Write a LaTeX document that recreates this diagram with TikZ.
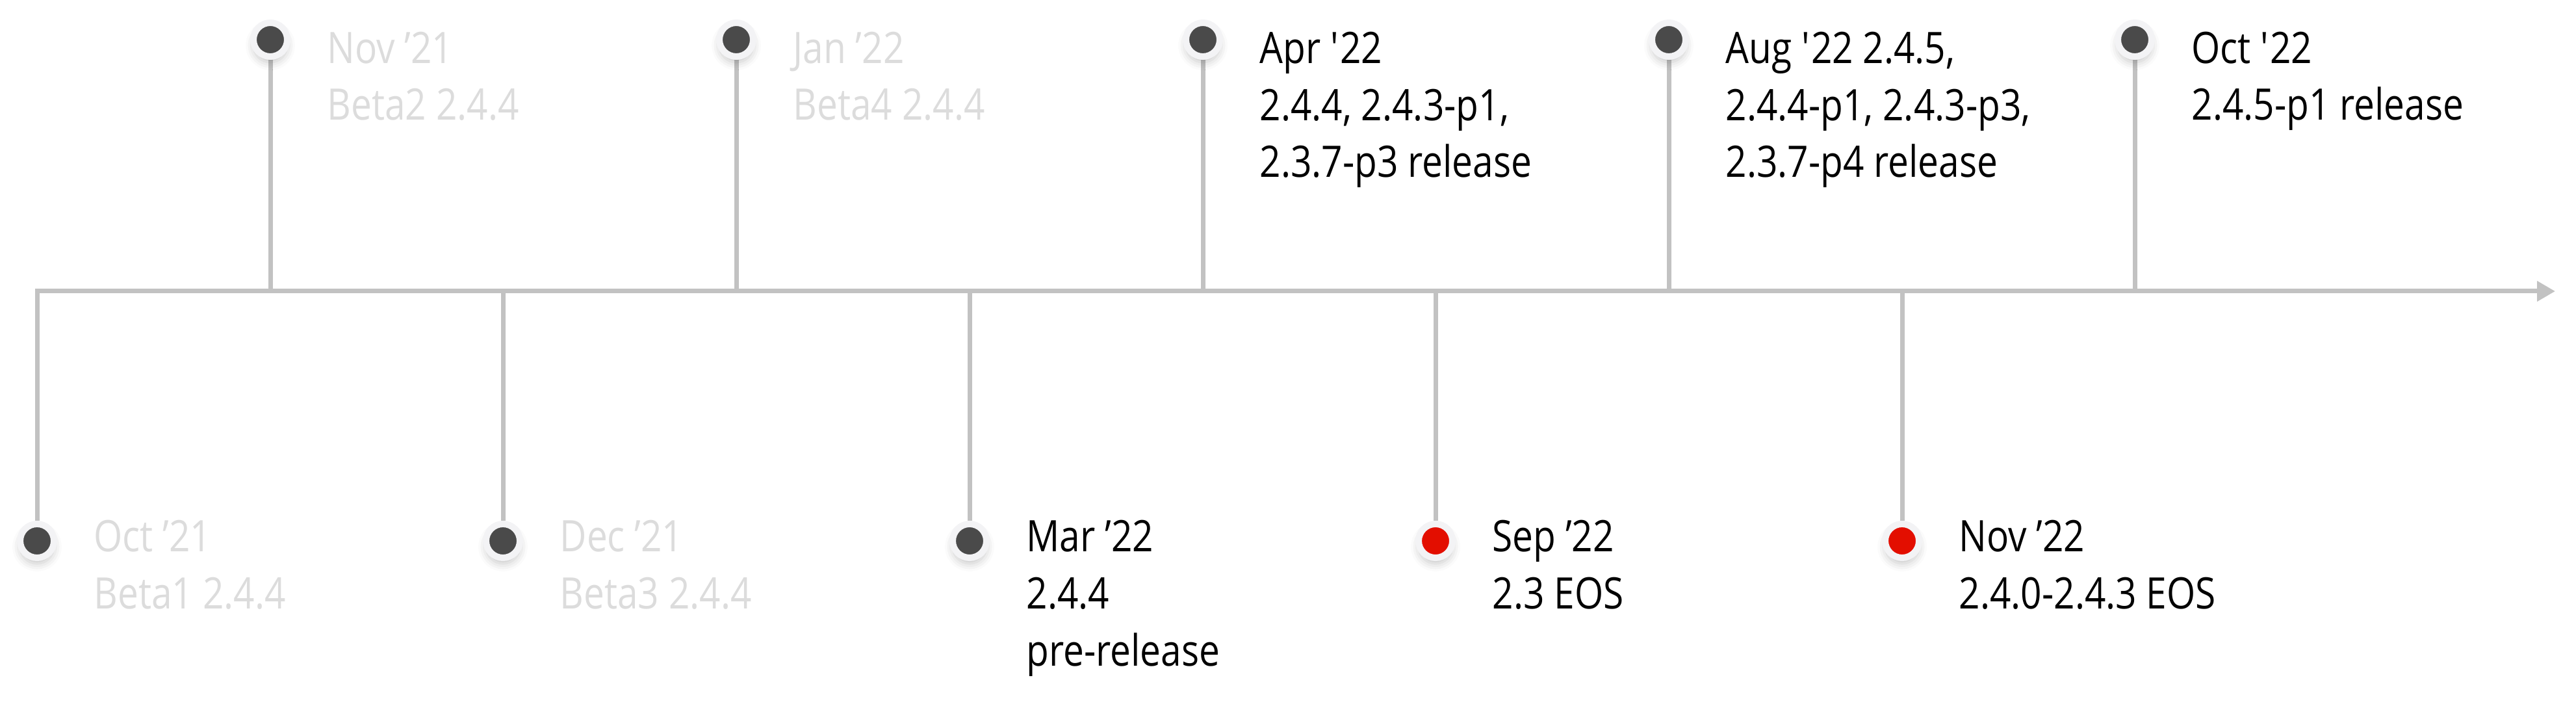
\documentclass[tikz,border=0pt]{standalone}
\usepackage{fontspec}
\usepackage{tikz}
\usetikzlibrary{arrows.meta,shadows.blur,backgrounds}
\newfontfamily\labelfont{Open Sans}[FakeStretch=0.85]
\definecolor{linegray}{HTML}{C2C2C2}
\definecolor{dotgray}{HTML}{4A4A4A}
\definecolor{dotred}{HTML}{E30E00}
\definecolor{ringwhite}{HTML}{F3F3F5}
\definecolor{fadedtext}{HTML}{DCDCDC}
\tikzset{
  axisline/.style={draw=linegray, line width=0.07cm},
  stem/.style={axisline},
  pin/.style={circle, fill=dotgray, draw=ringwhite, line width=0.1cm,
              minimum size=0.52cm, inner sep=0pt,
              blur shadow={shadow xshift=0cm, shadow yshift=-0.09cm,
                           shadow blur radius=0.12cm, shadow opacity=22}},
  eospin/.style={pin, fill=dotred},
  % anchor sits on the baseline of the last line
  lbl/.style={anchor=base west, align=left, inner sep=0pt,
              font=\labelfont\fontsize{19}{25}\selectfont, text=black},
  oldlbl/.style={lbl, text=fadedtext},
}
\begin{document}
\begin{tikzpicture}
    \useasboundingbox (0,0) rectangle (39.64,-10.86);
    % pins above and below the axis
    \node[pin] (d0) at (0.57, -8.32) {};
    \node[pin] (d1) at (4.16, -0.61) {};
    \node[pin] (d2) at (7.74, -8.32) {};
    \node[pin] (d3) at (11.33, -0.61) {};
    \node[pin] (d4) at (14.92, -8.32) {};
    \node[pin] (d5) at (18.51, -0.61) {};
    \node[eospin] (d6) at (22.09, -8.32) {};
    \node[pin] (d7) at (25.68, -0.61) {};
    \node[eospin] (d8) at (29.27, -8.32) {};
    \node[pin] (d9) at (32.85, -0.61) {};
    \coordinate (tip) at (39.32, -4.48);
    \begin{scope}[on background layer]
      \draw[axisline, -{Triangle[length=0.28cm, width=0.30cm]}] (d0) |- (tip);
      \foreach \i in {1,...,9}
        \draw[stem] (d\i) -- (d\i |- tip);
    \end{scope}
    % labels
    \node[oldlbl] (l0) at (1.44, -9.36) {Oct ’21\\Beta1 2.4.4};
    \node[oldlbl] (l1) at (5.03, -1.85) {Nov ’21\\Beta2 2.4.4};
    \node[oldlbl] (l2) at (8.61, -9.36) {Dec ’21\\Beta3 2.4.4};
    \node[oldlbl] (l3) at (12.20, -1.85) {Jan ’22\\Beta4 2.4.4};
    \node[lbl] (l4) at (15.79, -10.24) {Mar ’22\\2.4.4\\pre-release};
    \node[lbl] (l5) at (19.38, -2.73) {Apr \textquotesingle22\\2.4.4, 2.4.3-p1,\\2.3.7-p3 release};
    \node[lbl] (l6) at (22.96, -9.36) {Sep ’22\\2.3 EOS};
    \node[lbl] (l7) at (26.55, -2.73) {Aug \textquotesingle22 2.4.5,\\2.4.4-p1, 2.4.3-p3,\\2.3.7-p4 release};
    \node[lbl] (l8) at (30.14, -9.36) {Nov ’22\\2.4.0-2.4.3 EOS};
    \node[lbl] (l9) at (33.72, -1.85) {Oct \textquotesingle22\\2.4.5-p1 release};
  \end{tikzpicture}
\end{document}
